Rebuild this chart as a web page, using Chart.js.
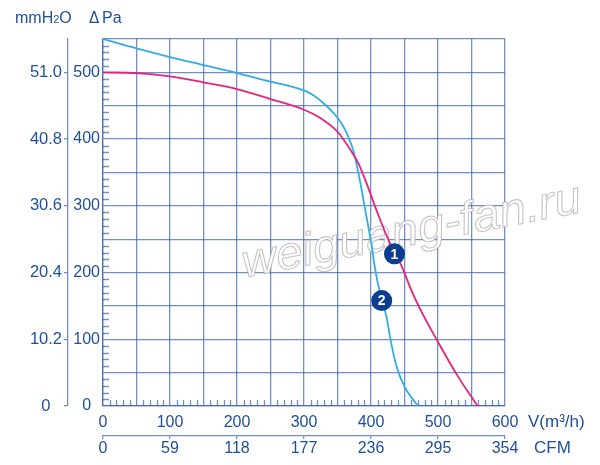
<!DOCTYPE html>
<html>
<head>
<meta charset="utf-8">
<script src="https://cdn.jsdelivr.net/npm/chart.js@4/dist/chart.umd.min.js"></script>
<style>
  body { margin: 0; background: #fff; }
  #chart { display: block; }
</style>
</head>
<body>
<canvas id="chart" width="600" height="465"></canvas>
<script>
/* Data */
const flow2 = [0, 50, 100, 150, 200, 250, 280, 300, 315, 330, 345, 357, 366, 375, 380, 385, 391, 399, 408, 416, 423, 430, 438, 450, 470];
const pressure2 = [550, 536, 523, 511, 499, 486, 479, 473, 465, 453, 438, 422, 404, 378, 355, 330, 296, 252, 195, 160, 134, 95, 60, 29, 0];

const flow1 = [0, 50, 100, 150, 200, 250, 300, 322, 350, 366, 381, 391, 408, 426, 446, 460, 473, 500, 530, 559];
const pressure1 = [500, 499, 494, 485, 475, 460, 444, 433, 411, 389, 364, 340, 294, 249, 209, 174, 146, 96, 44, 0];

const markerLabels = ['1', '2'];
const markerFlow = [435, 416];
const markerPressure = [228, 158];

const PA_TO_MMH2O = 0.102;
const M3H_TO_CFM = 0.59;

const TEXT = '#1f4f9c';
const GRID = 'rgba(55, 95, 170, 0.7)';
const FONT = 'Liberation Sans';

function points(xs, ys) {
    return xs.map((x, i) => ({x: x, y: ys[i]}));
}

/* Plugins */
const minorTicks = {
    id: 'minorTicks',
    beforeDatasetsDraw(chart) {
        const ctx = chart.ctx;
        const xs = chart.scales.x;
        const ys = chart.scales.y;
        const area = chart.chartArea;
        ctx.save();
        ctx.strokeStyle = GRID;
        ctx.lineWidth = 1.3;
        ctx.beginPath();
        for (let v = 10; v < 600; v += 10) {
            if (v % 50 === 0) continue;
            const px = Math.round(xs.getPixelForValue(v)) + 0.5;
            ctx.moveTo(px, area.bottom);
            ctx.lineTo(px, area.bottom - 6);
        }
        for (let p = 10; p < 550; p += 10) {
            if (p % 50 === 0) continue;
            const py = Math.round(ys.getPixelForValue(p)) + 0.5;
            ctx.moveTo(area.left, py);
            ctx.lineTo(area.left + 6, py);
        }
        ctx.stroke();

        // watermark
        const cx = (area.left + area.right) / 2 + 110;
        const cy = (area.top + area.bottom) / 2 + 22;
        ctx.translate(cx, cy);
        ctx.rotate(-11 * Math.PI / 180);
        ctx.font = 'italic 46px ' + FONT;
        const tw = ctx.measureText('weiguang-fan.ru').width;
        ctx.scale(345 / tw, 1);
        ctx.textAlign = 'center';
        ctx.textBaseline = 'alphabetic';
        ctx.fillStyle = '#ffffff';
        ctx.strokeStyle = 'rgba(160, 160, 160, 0.6)';
        ctx.lineWidth = 1.1;
        ctx.fillText('weiguang-fan.ru', 0, 0);
        ctx.strokeText('weiguang-fan.ru', 0, 0);
        ctx.restore();
    }
};

const extraText = {
    id: 'extraText',
    afterDraw(chart) {
        const ctx = chart.ctx;
        const meta = chart.getDatasetMeta(2);
        ctx.save();
        ctx.fillStyle = '#ffffff';
        ctx.font = 'bold 14px ' + FONT;
        ctx.textAlign = 'center';
        ctx.textBaseline = 'middle';
        meta.data.forEach((pt, i) => {
            ctx.fillText(markerLabels[i], pt.x, pt.y + 1);
        });

        ctx.fillStyle = TEXT;
        ctx.textAlign = 'left';
        ctx.textBaseline = 'alphabetic';
        ctx.font = '16px ' + FONT;
        ctx.fillText('mmH', 15, 23);
        let w = ctx.measureText('mmH').width;
        ctx.font = '11px ' + FONT;
        ctx.fillText('2', 15 + w, 23);
        w += ctx.measureText('2').width;
        ctx.font = '16px ' + FONT;
        ctx.fillText('O', 15 + w, 23);

        ctx.font = '15px DejaVu Sans';
        ctx.fillText('\u0394', 89, 23);
        ctx.font = '16px ' + FONT;
        ctx.fillText('Pa', 102, 23);

        ctx.textBaseline = 'middle';
        ctx.font = '17px ' + FONT;
        ctx.fillText('V(m\u00b3/h)', 528, 422);
        ctx.fillText('CFM', 534, 448);
        ctx.restore();
    }
};

/* Chart config */
const config = {
    type: 'line',
    data: {
        datasets: [
            {
                label: '1',
                data: points(flow1, pressure1),
                borderColor: '#e6227f',
                borderWidth: 1.8,
                pointRadius: 0,
                fill: false,
                cubicInterpolationMode: 'monotone',
                order: 2
            },
            {
                label: '2',
                data: points(flow2, pressure2),
                borderColor: '#30aee3',
                borderWidth: 1.8,
                pointRadius: 0,
                fill: false,
                cubicInterpolationMode: 'monotone',
                order: 3
            },
            {
                type: 'scatter',
                label: 'markers',
                data: points(markerFlow, markerPressure),
                backgroundColor: '#0c3d8e',
                borderWidth: 0,
                pointRadius: 10.5,
                order: 1
            }
        ]
    },
    options: {
        responsive: false,
        animation: false,
        layout: { padding: { top: 39, right: 95, left: 0, bottom: 0 } },
        plugins: {
            legend: { display: false },
            tooltip: { enabled: false }
        },
        scales: {
            x: {
                type: 'linear',
                position: 'bottom',
                weight: 0,
                min: 0,
                max: 600,
                grid: { color: GRID, lineWidth: 1.3, drawTicks: false },
                border: { color: GRID, width: 1.3 },
                ticks: {
                    stepSize: 50,
                    autoSkip: false,
                    maxRotation: 0,
                    padding: 7,
                    color: TEXT,
                    font: { family: FONT, size: 16 },
                    callback: v => (v % 100 === 0 ? String(v) : '')
                },
                afterFit: s => { s.height = 30; }
            },
            x2: {
                type: 'linear',
                position: 'bottom',
                weight: 1,
                min: 0,
                max: 600,
                grid: { drawOnChartArea: false, color: GRID, tickLength: 3, lineWidth: 1.3 },
                border: { color: GRID, width: 1.3 },
                ticks: {
                    stepSize: 100,
                    autoSkip: false,
                    maxRotation: 0,
                    padding: 0,
                    color: TEXT,
                    font: { family: FONT, size: 16 },
                    callback: v => String(Math.round(v * M3H_TO_CFM))
                },
                afterFit: s => { s.height = 29; }
            },
            y: {
                type: 'linear',
                position: 'left',
                weight: 0,
                min: 0,
                max: 550,
                grid: { color: GRID, lineWidth: 1.3, drawTicks: false },
                border: { color: GRID, width: 1.3 },
                ticks: {
                    stepSize: 50,
                    autoSkip: false,
                    padding: 3,
                    crossAlign: 'center',
                    color: TEXT,
                    font: { family: FONT, size: 16 },
                    callback: v => (v % 100 === 0 && v <= 500 ? String(v) : '')
                },
                afterFit: s => { s.width = 35; }
            },
            y2: {
                type: 'linear',
                position: 'left',
                weight: 1,
                min: 0,
                max: 550,
                grid: { drawOnChartArea: false, color: GRID, tickLength: 4, lineWidth: 1.3 },
                border: { color: GRID, width: 1.3 },
                ticks: {
                    stepSize: 100,
                    includeBounds: false,
                    autoSkip: false,
                    padding: 2,
                    crossAlign: 'center',
                    color: TEXT,
                    font: { family: FONT, size: 16.5 },
                    callback: v => (v === 0 ? '0' : (v * PA_TO_MMH2O).toFixed(1))
                },
                afterFit: s => { s.width = 68; }
            }
        }
    },
    plugins: [minorTicks, extraText]
};

new Chart(document.getElementById('chart'), config);
</script>
</body>
</html>
